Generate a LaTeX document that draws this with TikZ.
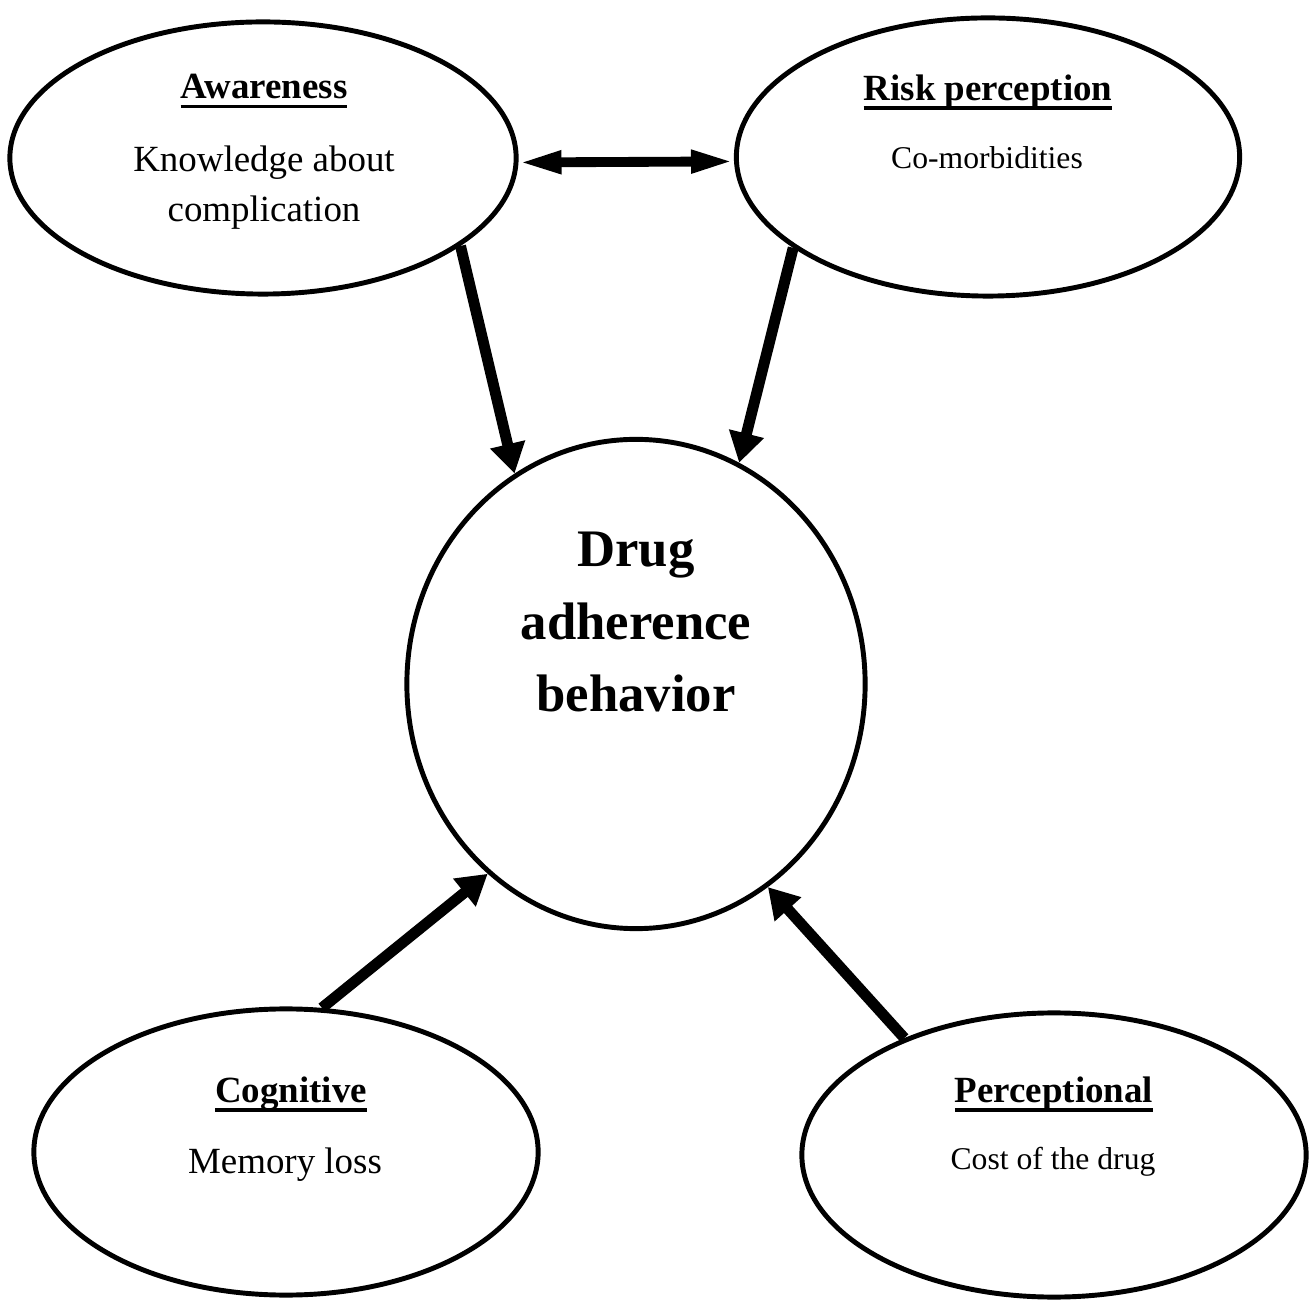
\documentclass[tikz,border=0pt]{standalone}
\usepackage{fontspec}
\setmainfont{Liberation Serif}
\usetikzlibrary{shapes.geometric, arrows.meta}
% thick underline for the factor names
\newcommand{\hdrline}[1]{\setbox0\hbox{#1}\rlap{\vrule height -1.8pt depth 2.7pt width \wd0}\box0}

\begin{document}
\begin{tikzpicture}[x=0.01cm, y=-0.01cm,
        factor/.style={draw, ellipse, line width=1.4pt, inner sep=0pt},
        title/.style={font=\fontsize{10.5}{13}\selectfont\bfseries},
        item/.style={font=\fontsize{10.5}{14.2}\selectfont, align=center},
        smallitem/.style={font=\fontsize{9}{11}\selectfont},
        arrow/.style={-{Triangle[length=0.3cm, width=0.34cm]}, line width=3.1pt},
        link/.style={{Triangle[length=0.43cm, width=0.21cm]}-{Triangle[length=0.43cm, width=0.21cm]},
                     line width=2.8pt}]

        \useasboundingbox (0, 0) rectangle (1312, 1301);

        % Top left: awareness
        \node[factor, minimum width=5.06cm, minimum height=2.72cm] (aware) at (263, 158) {};
        \node[title] (awaretitle) at (264, 91) {\hdrline{Awareness}};
        \node[item] (awaretext) at (264, 188) {Knowledge about\\complication};

        % Top right: risk perception
        \node[factor, minimum width=5.03cm, minimum height=2.78cm] (risk) at (988, 157) {};
        \node[title] (risktitle) at (988, 92) {\hdrline{Risk perception}};
        \node[smallitem] (risktext) at (987, 158) {Co-morbidities};

        % Centre: the outcome
        \node[factor, minimum width=4.58cm, minimum height=4.89cm] (drug) at (636, 684) {};
        \node[font=\fontsize{15}{20.5}\selectfont\bfseries, align=center] (drugtext) at (636, 622)
            {Drug\\adherence\\behavior};

        % Bottom left: cognitive
        \node[factor, minimum width=5.04cm, minimum height=2.86cm] (cog) at (286, 1152) {};
        \node[title] (cogtitle) at (291, 1094) {\hdrline{Cognitive}};
        \node[item] (cogtext) at (285, 1165) {Memory loss};

        % Bottom right: perceptional
        \node[factor, minimum width=5.04cm, minimum height=2.84cm] (perc) at (1054, 1155) {};
        \node[title] (perctitle) at (1054, 1094) {\hdrline{Perceptional}};
        \node[smallitem] (perctext) at (1053, 1162) {Cost of the drug};

        \draw[link] (aware.-1.2) -- (risk.181.2);
        \draw[arrow] (aware.-24.5) -- (drug.120);
        \draw[arrow] (risk.205.6) -- (drug.65.2);
        \draw[arrow] (cog.76.4) -- (drug.232.5);
        \draw[arrow] (perc.142) -- (drug.-57.3);
    \end{tikzpicture}
\end{document}
